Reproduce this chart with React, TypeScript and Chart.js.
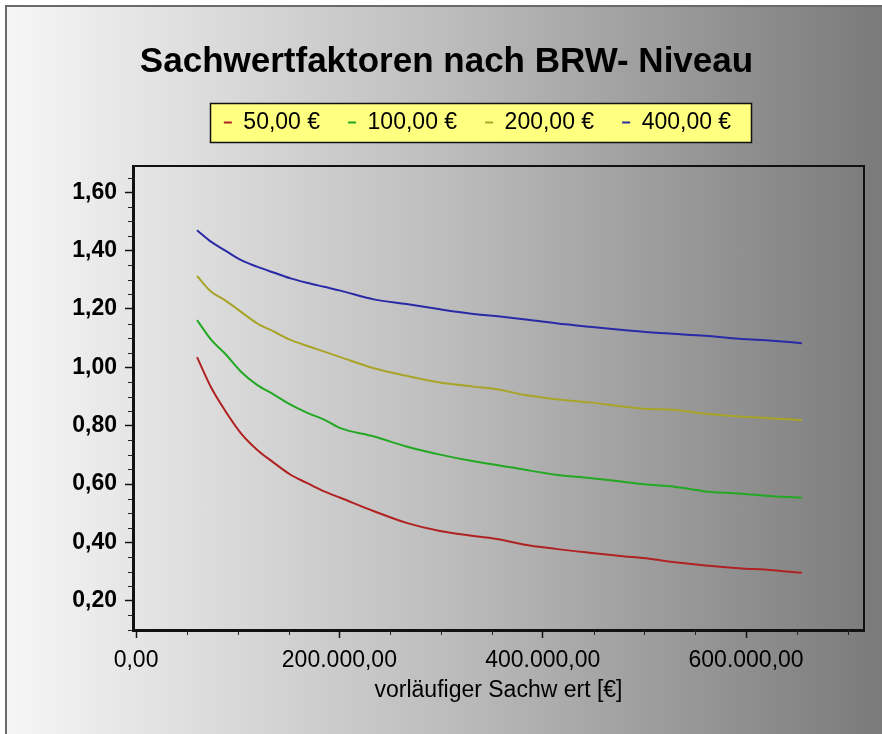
import React, { useEffect, useRef } from 'react';
import { Chart, registerables } from 'chart.js';

Chart.register(...registerables);

// ---- data ----
const sachwert = [60000, 74000, 87000, 103000, 119000, 136000, 152000, 168000, 185000, 201000, 234000, 266000, 299000, 332000, 358000, 381000, 413000, 446000, 479000, 505000, 528000, 560000, 593000, 626000, 655000];
const brw50 = [1.035, 0.93, 0.855, 0.775, 0.718, 0.672, 0.632, 0.604, 0.575, 0.553, 0.507, 0.467, 0.439, 0.422, 0.41, 0.393, 0.378, 0.365, 0.353, 0.344, 0.333, 0.321, 0.312, 0.305, 0.296];
const brw100 = [1.162, 1.094, 1.049, 0.986, 0.94, 0.906, 0.872, 0.845, 0.821, 0.792, 0.763, 0.729, 0.701, 0.678, 0.664, 0.65, 0.632, 0.621, 0.608, 0.598, 0.592, 0.575, 0.568, 0.558, 0.553];
const brw200 = [1.313, 1.259, 1.231, 1.191, 1.151, 1.122, 1.094, 1.074, 1.054, 1.035, 0.997, 0.971, 0.948, 0.934, 0.923, 0.906, 0.891, 0.88, 0.866, 0.857, 0.855, 0.841, 0.832, 0.825, 0.819];
const brw400 = [1.47, 1.43, 1.402, 1.368, 1.345, 1.324, 1.305, 1.29, 1.276, 1.263, 1.233, 1.217, 1.199, 1.183, 1.174, 1.165, 1.151, 1.139, 1.128, 1.12, 1.115, 1.108, 1.098, 1.091, 1.083];
const seriesLabels = ['50,00 €', '100,00 €', '200,00 €', '400,00 €'];
const seriesColors = ['#b02222', '#22a822', '#a8a428', '#2a2aa6'];

const yTicks = [0.2, 0.4, 0.6, 0.8, 1.0, 1.2, 1.4, 1.6];
const yTickLabels = ['0,20', '0,40', '0,60', '0,80', '1,00', '1,20', '1,40', '1,60'];
const xTicks = [0, 200000, 400000, 600000];
const xTickLabels = ['0,00', '200.000,00', '400.000,00', '600.000,00'];
const yMinorStep = 0.05;
const xMinorStep = 50000;

const titleText = 'Sachwertfaktoren nach BRW- Niveau';
const xAxisTitle = 'vorläufiger Sachw ert [€]';

const FONT = '"Liberation Sans", Arial, sans-serif';
const LEGEND_SHIFT = 31;

const framePlugin = {
  id: 'framePlugin',
  afterLayout(chart: any) {
    const lg = chart.legend;
    if (lg) {
      lg.left += LEGEND_SHIFT;
      lg.right += LEGEND_SHIFT;
    }
  },
  beforeDraw(chart: any) {
    const lg = chart.legend;
    if (!lg || !lg.legendHitBoxes || !lg.legendHitBoxes.length) return;
    const hb = lg.legendHitBoxes;
    let l = Infinity, r = -Infinity, t = Infinity, b = -Infinity;
    hb.forEach((h: any) => {
      l = Math.min(l, h.left);
      r = Math.max(r, h.left + h.width);
      t = Math.min(t, h.top);
      b = Math.max(b, h.top + h.height);
    });
    const ctx = chart.ctx;
    ctx.save();
    ctx.fillStyle = '#ffff80';
    ctx.strokeStyle = '#111';
    ctx.lineWidth = 1.5;
    const x0 = Math.round(l - 14) + 0.5;
    const y0 = Math.round(t - 8) + 0.5;
    const w = Math.round(r + 20 - x0);
    const h = Math.round(b + 8 - y0);
    ctx.fillRect(x0, y0, w, h);
    ctx.strokeRect(x0, y0, w, h);
    ctx.restore();
  },
  afterDraw(chart: any) {
    const { ctx, chartArea } = chart;
    const xs = chart.scales.x;
    const ys = chart.scales.y;
    ctx.save();
    ctx.strokeStyle = '#111';
    ctx.lineWidth = 2;
    ctx.beginPath();
    ctx.moveTo(chartArea.left, chartArea.top);
    ctx.lineTo(chartArea.right, chartArea.top);
    ctx.lineTo(chartArea.right, chartArea.bottom);
    ctx.stroke();
    // minor ticks
    ctx.lineWidth = 1;
    ctx.strokeStyle = '#222';
    ctx.beginPath();
    for (let v = yMinorStep; v < ys.max; v += yMinorStep) {
      const vv = Math.round(v * 100) / 100;
      if (vv < ys.min || yTicks.some((t) => Math.abs(t - vv) < 1e-6)) continue;
      const py = Math.round(ys.getPixelForValue(vv)) + 0.5;
      ctx.moveTo(chartArea.left - 5, py);
      ctx.lineTo(chartArea.left, py);
    }
    for (let v = xMinorStep; v < xs.max; v += xMinorStep) {
      if (xTicks.includes(v)) continue;
      const px = Math.round(xs.getPixelForValue(v)) + 0.5;
      ctx.moveTo(px, chartArea.bottom);
      ctx.lineTo(px, chartArea.bottom + 5);
    }
    ctx.stroke();
    ctx.restore();
  },
};

export default function App() {
  const canvasRef = useRef<HTMLCanvasElement>(null);

  useEffect(() => {
    if (!canvasRef.current) return;
    Chart.defaults.font.family = FONT;
    const series = [brw50, brw100, brw200, brw400];
    const chart = new Chart(canvasRef.current, {
      type: 'line',
      data: {
        datasets: series.map((vals, i) => ({
          label: seriesLabels[i],
          data: vals.map((y, k) => ({ x: sachwert[k], y })),
          borderColor: seriesColors[i],
          backgroundColor: seriesColors[i],
          borderWidth: 2,
          pointRadius: 0,
          cubicInterpolationMode: 'monotone' as const,
          fill: false,
        })),
      },
      options: {
        responsive: false,
        maintainAspectRatio: false,
        animation: false,
        layout: { padding: { top: 10, left: 29, right: 18, bottom: 0 } },
        plugins: {
          tooltip: { enabled: false },
          title: {
            display: true,
            text: titleText,
            color: '#000',
            font: { size: 35, weight: 'bold', family: FONT },
            padding: { top: 31, bottom: 0 },
          },
          subtitle: {
            display: true,
            text: ' ',
            weight: 500,
            font: { size: 1, lineHeight: 1 },
            padding: { top: 21, bottom: 0 },
          } as any,
          legend: {
            display: true,
            position: 'top',
            labels: {
              color: '#000',
              font: { size: 23, family: FONT },
              usePointStyle: true,
              pointStyle: 'line',
              pointStyleWidth: 8,
              boxWidth: 8,
              padding: 28,
            },
          },
        },
        scales: {
          x: {
            type: 'linear',
            position: 'bottom',
            min: -3000,
            max: 716000,
            afterBuildTicks: (s: any) => {
              s.ticks = xTicks.map((v) => ({ value: v }));
            },
            afterFit: (s: any) => {
              s.height = 104;
            },
            ticks: {
              color: '#000',
              font: { size: 23, family: FONT },
              padding: 9,
              maxRotation: 0,
              autoSkip: false,
              callback: (v: any) => xTickLabels[xTicks.indexOf(Number(v))] ?? '',
            },
            grid: {
              drawOnChartArea: false,
              drawTicks: true,
              tickLength: 8,
              tickColor: '#111',
              tickWidth: 1.5,
            },
            border: { display: true, color: '#111', width: 3 },
            title: {
              display: true,
              text: xAxisTitle,
              color: '#000',
              font: { size: 23, family: FONT },
              padding: { top: 0, bottom: 30 },
            },
          },
          y: {
            type: 'linear',
            min: 0.1,
            max: 1.69,
            afterBuildTicks: (s: any) => {
              s.ticks = yTicks.map((v) => ({ value: v }));
            },
            afterFit: (s: any) => {
              s.width = 104;
            },
            ticks: {
              color: '#000',
              font: { size: 23, weight: 'bold', family: FONT },
              padding: 8,
              autoSkip: false,
              callback: (v: any) => {
                const idx = yTicks.findIndex((t) => Math.abs(t - Number(v)) < 1e-6);
                return idx >= 0 ? yTickLabels[idx] : '';
              },
            },
            grid: {
              drawOnChartArea: false,
              drawTicks: true,
              tickLength: 8,
              tickColor: '#111',
              tickWidth: 1.5,
            },
            border: { display: true, color: '#111', width: 3 },
          },
        },
      } as any,
      plugins: [framePlugin],
    });
    return () => chart.destroy();
  }, []);

  return (
    <div style={{ position: 'fixed', left: 0, top: 0, width: 882, height: 734, background: '#fff', overflow: 'hidden' }}>
      <div
        style={{
          position: 'absolute',
          left: 5,
          top: 5,
          right: 0,
          bottom: 0,
          background: 'linear-gradient(to right, #f6f6f6 0%, #bdbdbd 50%, #7a7a7a 100%)',
          borderTop: '2px solid #6a6a6a',
          borderLeft: '2px solid #6a6a6a',
        }}
      />
      <canvas
        ref={canvasRef}
        width={882}
        height={734}
        style={{ position: 'absolute', left: 0, top: 0, width: 882, height: 734 }}
      />
    </div>
  );
}
